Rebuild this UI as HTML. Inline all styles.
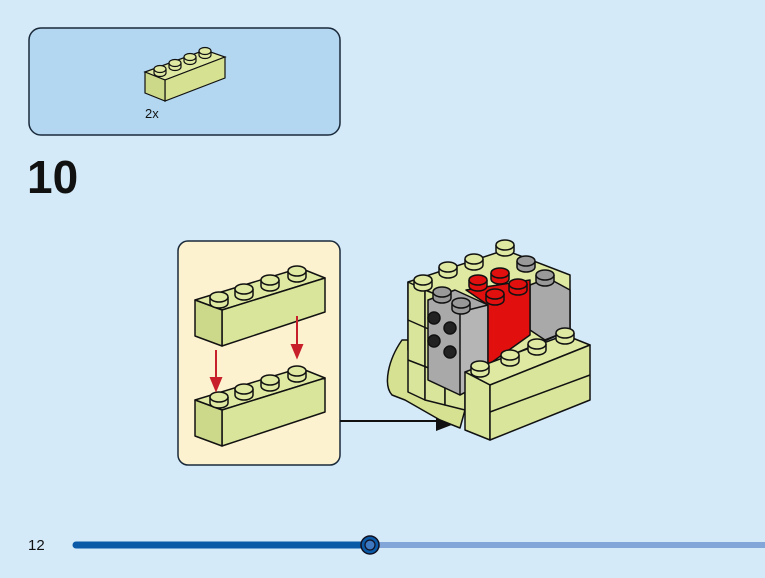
<!DOCTYPE html>
<html><head><style>
html,body{margin:0;padding:0;background:#d4eaf9;}
body{width:765px;height:578px;overflow:hidden;position:relative;font-family:"Liberation Sans",sans-serif;}
</style></head><body>
<svg width="765" height="578" viewBox="0 0 765 578" xmlns="http://www.w3.org/2000/svg" style="position:absolute;left:0;top:0">
<defs>
<g id="s"><path d="M-9,-5 L-9,1 A9,5 0 0 0 9,1 L9,-5" stroke="#111" stroke-width="1.5"/><ellipse cx="0" cy="-5" rx="9" ry="5" stroke="#111" stroke-width="1.5"/></g>
<g id="ss"><path d="M-6,-3 L-6,1 A6,3.5 0 0 0 6,1 L6,-3" stroke="#111" stroke-width="1.2"/><ellipse cx="0" cy="-3" rx="6" ry="3.5" stroke="#111" stroke-width="1.2"/></g>
</defs>
<rect x="0" y="0" width="765" height="578" fill="#d4eaf9"/>
<rect x="29" y="28" width="311" height="107" rx="12" fill="#b3d7f1" stroke="#1a2a3a" stroke-width="1.5"/>
<g stroke="#111" stroke-width="1.2" fill="#dfe9a2">
<polygon points="145,72 205,50 225,57 165,80"/>
<polygon points="165,80 225,57 225,78 165,101" fill="#d6e291"/>
<polygon points="145,72 165,80 165,101 145,93" fill="#cbd988"/>
</g>
<use href="#ss" x="160" y="72" fill="#dfe9a2"/><use href="#ss" x="175" y="66" fill="#dfe9a2"/><use href="#ss" x="190" y="60" fill="#dfe9a2"/><use href="#ss" x="205" y="54" fill="#dfe9a2"/>
<text x="145" y="118" font-size="13" fill="#111">2x</text>
<text x="27" y="193" font-size="46" font-weight="bold" fill="#111">10</text>
<rect x="178" y="241" width="162" height="224" rx="10" fill="#fdf2cf" stroke="#1a2a3a" stroke-width="1.5"/>
<g stroke="#111" stroke-width="1.5" fill="#dfe9a2" stroke-linejoin="round">
<polygon points="195,300 300,268 325,278 222,310"/>
<polygon points="222,310 325,278 325,312 222,346" fill="#d9e59a"/>
<polygon points="195,300 222,310 222,346 195,336" fill="#cdd98a"/>
<polygon points="195,400 300,368 325,378 222,410"/>
<polygon points="222,410 325,378 325,412 222,446" fill="#d9e59a"/>
<polygon points="195,400 222,410 222,446 195,436" fill="#cdd98a"/>
</g>
<g fill="#dfe9a2"><use href="#s" x="219" y="302"/><use href="#s" x="244" y="294"/><use href="#s" x="270" y="285"/><use href="#s" x="297" y="276"/>
<use href="#s" x="219" y="402"/><use href="#s" x="244" y="394"/><use href="#s" x="270" y="385"/><use href="#s" x="297" y="376"/></g>
<g stroke="#c8202a" stroke-width="2" fill="#c8202a">
<line x1="216" y1="350" x2="216" y2="380"/><polygon points="211,378 221,378 216,390"/>
<line x1="297" y1="316" x2="297" y2="347"/><polygon points="292,345 302,345 297,357"/>
</g>
<line x1="340" y1="421" x2="440" y2="421" stroke="#111" stroke-width="2"/>
<polygon points="436,413 462,421 436,431" fill="#111"/>
<g stroke="#111" stroke-width="1.5" fill="#dfe9a2" stroke-linejoin="round">
<path d="M402,340 C388,360 383,385 392,395 L405,400 L440,420 L460,428 L465,410 L410,340 Z" fill="#d6e291"/>
<polygon points="408,282 505,250 570,275 570,330 465,375 408,350" fill="#dfe9a2"/>
<polygon points="408,282 425,290 425,400 408,392" fill="#d9e59a"/>
<polygon points="425,290 445,298 445,405 425,400" fill="#d9e59a"/>
<polygon points="445,298 465,305 465,410 445,405" fill="#d9e59a"/>
<line x1="408" y1="320" x2="465" y2="345"/><line x1="408" y1="360" x2="465" y2="382"/>
<polygon points="530,285 548,278 570,290 570,330 545,340 530,330" fill="#a9a9a9"/>
<polygon points="428,300 455,290 488,305 488,380 460,395 428,380" fill="#a9a9a9"/>
<polygon points="460,312 488,305 488,380 460,395" fill="#b5b5b5"/>
<polygon points="466,290 530,280 530,335 488,365 488,305" fill="#e20f0f"/>
<g fill="#222"><circle cx="434" cy="318" r="6"/><circle cx="450" cy="328" r="6"/><circle cx="434" cy="341" r="6"/><circle cx="450" cy="352" r="6"/></g>
</g>
<g fill="#e20f0f"><use href="#s" x="478" y="285"/><use href="#s" x="500" y="278"/><use href="#s" x="518" y="289"/><use href="#s" x="495" y="299"/></g>
<g fill="#999"><use href="#s" x="442" y="297"/><use href="#s" x="461" y="308"/><use href="#s" x="526" y="266"/><use href="#s" x="545" y="280"/></g>
<g fill="#dfe9a2"><use href="#s" x="423" y="285"/><use href="#s" x="448" y="272"/><use href="#s" x="474" y="264"/><use href="#s" x="505" y="250"/></g>
<g stroke="#111" stroke-width="1.5" fill="#dfe9a2" stroke-linejoin="round">
<polygon points="465,372 565,335 590,345 490,385" />
<polygon points="465,372 490,385 490,440 465,430" fill="#d9e59a"/>
<polygon points="490,385 590,345 590,400 490,440" fill="#d9e59a"/>
<line x1="490" y1="412" x2="590" y2="375"/>
</g>
<g fill="#dfe9a2"><use href="#s" x="480" y="371"/><use href="#s" x="510" y="360"/><use href="#s" x="537" y="349"/><use href="#s" x="565" y="338"/></g>
<text x="28" y="550" font-size="15" fill="#111">12</text>
<line x1="370" y1="545" x2="765" y2="545" stroke="#82a6d8" stroke-width="6"/>
<line x1="76" y1="545" x2="370" y2="545" stroke="#0a5aa8" stroke-width="7" stroke-linecap="round"/>
<circle cx="370" cy="545" r="9" fill="#0a5aa8" stroke="#112" stroke-width="1.5"/>
<circle cx="370" cy="545" r="5" fill="#3e78c0" stroke="#112" stroke-width="1.2"/>
</svg>
</body></html>
